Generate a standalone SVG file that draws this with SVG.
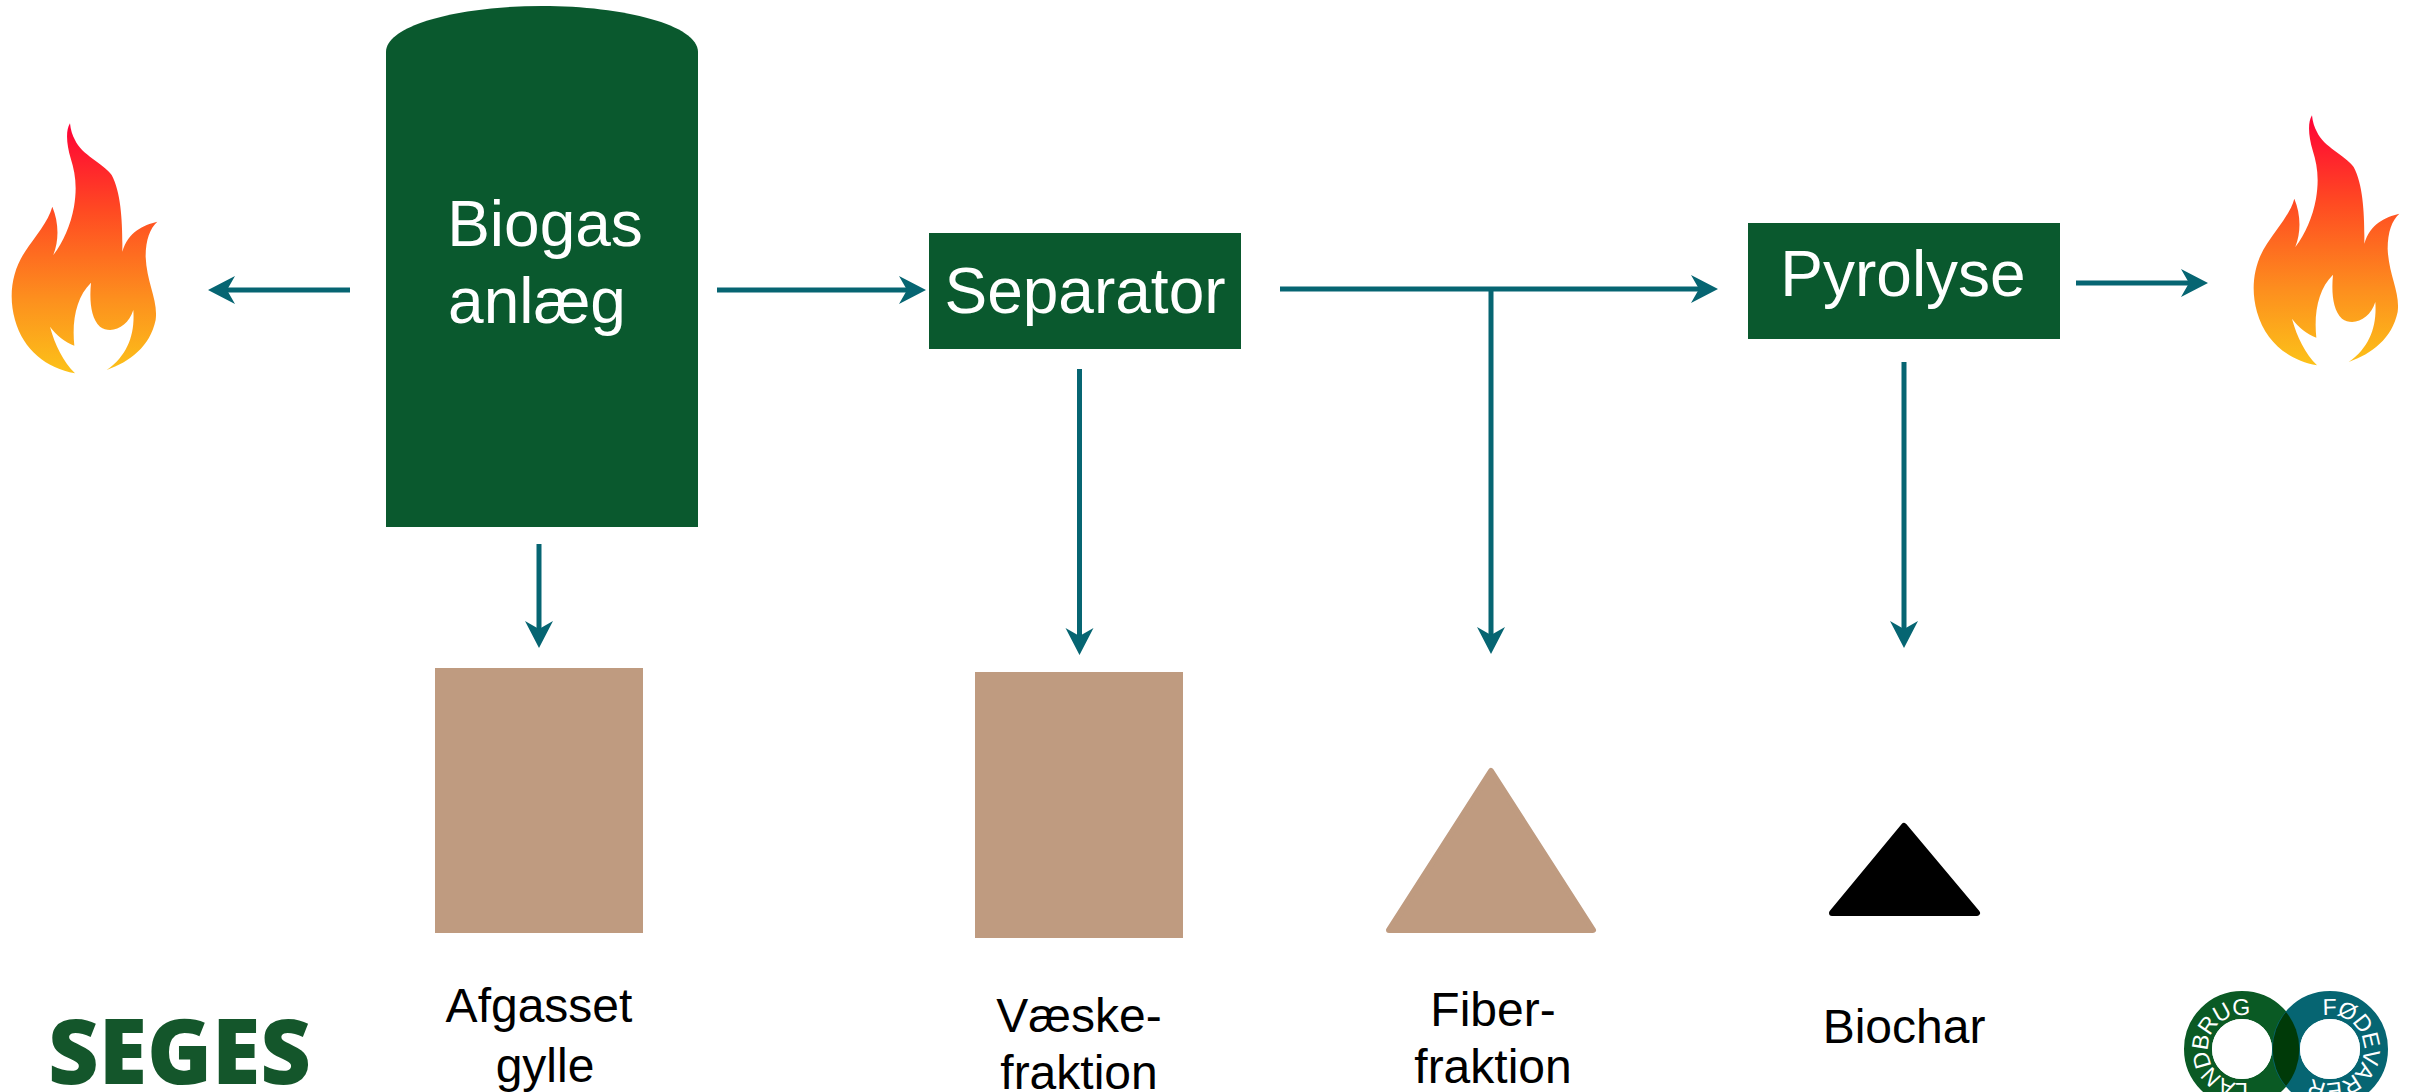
<svg xmlns="http://www.w3.org/2000/svg" width="2418" height="1092" viewBox="0 0 2418 1092">
<style>
.n{fill:#0a592e}.b{fill:#bf9b80}
.t{font-family:"Liberation Sans",Arial,sans-serif;text-anchor:middle}
.w{fill:#fff;font-size:64px}.k{fill:#000;font-size:48px}
.c line{stroke:#066572;stroke-width:5;fill:none}
.a{marker-end:url(#arrow)}
.r{font-family:"Liberation Sans",Arial,sans-serif;font-size:23px;fill:#fff;letter-spacing:-1px}
</style>
<defs>
<marker id="arrow" markerUnits="userSpaceOnUse" markerWidth="30" markerHeight="30" refX="14" refY="14" orient="auto" viewBox="0 0 30 28"><path d="M0 0L27 14L0 28L8 14Z" fill="#066572"/></marker>
<linearGradient id="fl" x1="0" y1="0" x2="0" y2="1"><stop offset="0" stop-color="#ff0036"/><stop offset=".35" stop-color="#ff4a22"/><stop offset=".7" stop-color="#fd8f1e"/><stop offset="1" stop-color="#fcc219"/></linearGradient>
<path id="flame" fill="url(#fl)" d="M210 70C196 92 200 135 212 175C226 220 232 260 222 320C212 375 190 425 160 465C178 420 176 365 157 320C145 365 105 410 75 455C35 515 25 590 45 660C70 750 140 805 225 820C190 785 165 735 150 680C170 708 195 725 223 737C215 660 230 590 273 548C268 600 272 655 300 680C335 705 385 680 400 630C405 700 385 765 320 810C390 785 450 740 467 660C475 600 440 550 437 470C437 420 450 385 472 365C430 375 385 395 367 455C368 380 365 280 335 225C310 190 245 165 225 120C217 105 212 90 210 70Z"/>
<path id="arcL" d="M2247.900 1082.500A34 34 0 1 1 2275.500 1054.900"/>
<path id="arcR" d="M2322.900 1015.700A34 34 0 1 1 2300 1033"/>
</defs>
<rect width="2418" height="1092" fill="#fff"/>
<g id="flame-left"><use href="#flame" transform="translate(0 100) scale(.3333)"/></g>
<g id="flame-right"><use href="#flame" transform="translate(2242 92) scale(.3333)"/></g>
<g id="biogas"><path class="n" d="M386 527V52C386 25 460 6 542 6C624 6 698 25 698 52V527Z"/><text class="t w" x="545" y="246">Biogas</text><text class="t w" x="537" y="323">anlæg</text></g>
<g id="separator"><rect class="n" x="929" y="233" width="312" height="116"/><text class="t w" x="1085" y="313">Separator</text></g>
<g id="pyrolyse"><rect class="n" x="1748" y="223" width="312" height="116"/><text class="t w" x="1903" y="296">Pyrolyse</text></g>
<g id="afgasset"><rect class="b" x="435" y="668" width="208" height="265"/><text class="t k" x="539" y="1022">Afgasset</text><text class="t k" x="545" y="1082">gylle</text></g>
<g id="vaeske"><rect class="b" x="975" y="672" width="208" height="266"/><text class="t k" x="1079" y="1032">Væske-</text><text class="t k" x="1079" y="1089">fraktion</text></g>
<g id="fiber"><path class="b" stroke="#bf9b80" stroke-width="6" stroke-linejoin="round" d="M1491 771L1593 930H1389Z"/><text class="t k" x="1493" y="1026">Fiber-</text><text class="t k" x="1493" y="1083">fraktion</text></g>
<g id="biochar"><path stroke="#000" stroke-width="6" stroke-linejoin="round" d="M1904 826L1977 913H1832Z"/><text class="t k" x="1904" y="1043">Biochar</text></g>
<g id="seges"><text x="48" y="1084" font-family="'Open Sans',sans-serif" font-weight="800" font-size="91" fill="#14562b" textLength="263" lengthAdjust="spacingAndGlyphs">SEGES</text></g>
<g id="logo">
<circle cx="2242" cy="1049" r="44" fill="none" stroke="#0a5a24" stroke-width="28"/>
<circle cx="2330" cy="1049" r="44" fill="none" stroke="#066572" stroke-width="28"/>
<path fill="#003a08" d="M2286 1012A58 58 0 0 0 2286 1086A58 58 0 0 0 2286 1012Z"/>
<circle cx="2242" cy="1049" r="30" fill="#fff"/><circle cx="2330" cy="1049" r="30" fill="#fff"/>
<text class="r"><textPath href="#arcL">LANDBRUG</textPath></text>
<text class="r"><textPath href="#arcR">FØDEVARER</textPath></text>
</g>
<g id="connectors" class="c">
<line class="a" x1="350" y1="290" x2="221" y2="290"/>
<line class="a" x1="717" y1="290" x2="913" y2="290"/>
<line class="a" x1="1280" y1="289" x2="1705" y2="289"/>
<line class="a" x1="1491" y1="289" x2="1491" y2="641"/>
<line class="a" x1="2076" y1="283" x2="2195" y2="283"/>
<line class="a" x1="539" y1="544" x2="539" y2="635"/>
<line class="a" x1="1079.500" y1="369" x2="1079.500" y2="642"/>
<line class="a" x1="1904" y1="362" x2="1904" y2="635"/>
</g>
</svg>
